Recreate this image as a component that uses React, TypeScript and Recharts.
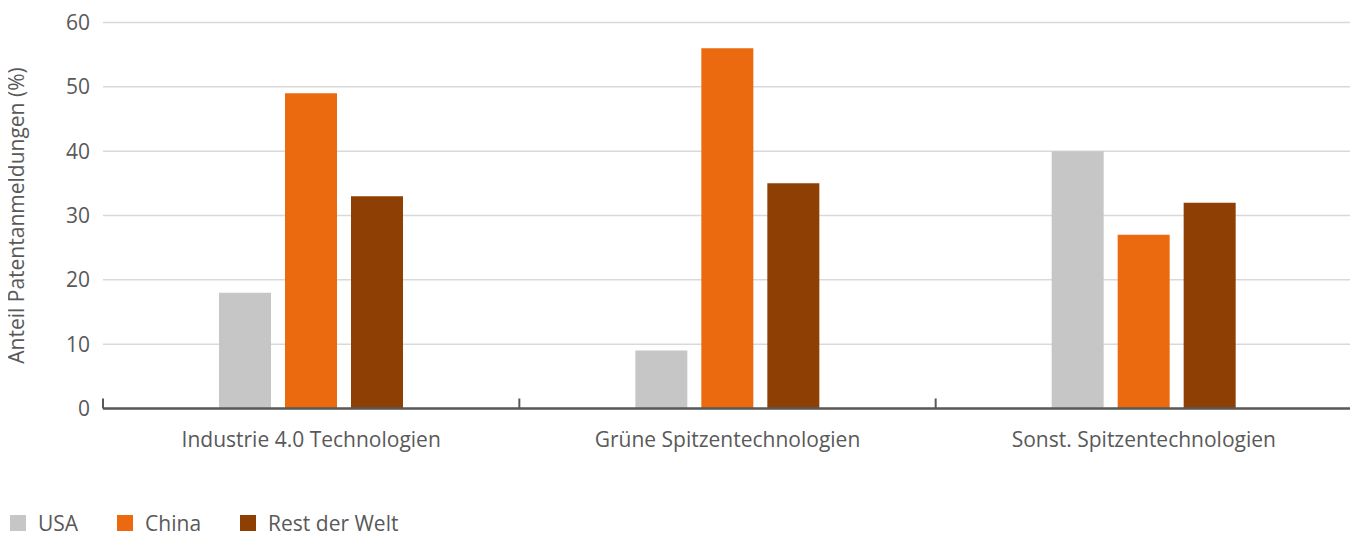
import React from "react";
import { BarChart, Bar, XAxis, YAxis, CartesianGrid, Legend } from "recharts";

const categories = ["Industrie 4.0 Technologien", "Grüne Spitzentechnologien", "Sonst. Spitzentechnologien"];
const usa = [18, 9, 40];
const china = [49, 56, 27];
const rest = [33, 35, 32];
const yTicks = [0, 10, 20, 30, 40, 50, 60];
const seriesNames = ["USA", "China", "Rest der Welt"];
const seriesColors = ["#c6c6c6", "#eb6a10", "#8e3f03"];
const yLabel = "Anteil Patentanmeldungen (%)";

const data = categories.map((c, i) => ({ category: c, USA: usa[i], China: china[i], "Rest der Welt": rest[i] }));

const FONT = "'Open Sans', 'Noto Sans', sans-serif";
const TEXT = "#595959";
const FS = 21;
const TICK_MARGIN = 24;

const CatTick = (props: any) => {
  const { x, y, payload, index, width, visibleTicksCount } = props;
  const band = width / visibleTicksCount;
  const axisY = y - TICK_MARGIN;
  const left = x - band / 2;
  const right = x + band / 2;
  return (
    <g>
      <line x1={left} x2={left} y1={axisY} y2={axisY - 10} stroke="#595959" strokeWidth={2} />
      {index === visibleTicksCount - 1 && (
        <line x1={right} x2={right} y1={axisY} y2={axisY - 10} stroke="#595959" strokeWidth={2} />
      )}
      <text x={x} y={y} dy="0.71em" textAnchor="middle" fill={TEXT} fontSize={FS} fontFamily={FONT}>
        {payload.value}
      </text>
    </g>
  );
};

const LegendContent = () => (
  <div style={{ height: 0, position: "relative" }}>
    <div style={{ position: "absolute", left: 0, top: 0, display: "flex", whiteSpace: "nowrap", alignItems: "center" }}>
      {seriesNames.map((n, i) => (
        <div key={n} style={{ display: "flex", alignItems: "center", marginRight: 39 }}>
          <div style={{ width: 16, height: 16, background: seriesColors[i], marginRight: 12 }} />
          <span style={{ fontFamily: FONT, fontSize: FS, color: TEXT, lineHeight: "22px" }}>{n}</span>
        </div>
      ))}
    </div>
  </div>
);

export default function App() {
  return (
    <div style={{ width: 1358, height: 528, marginLeft: -8 }}>
      <BarChart
        width={1358}
        height={528}
        data={data}
        margin={{ top: 14.5, right: 6, bottom: 67.5, left: 0 }}
        barGap={14}
      >
        <CartesianGrid vertical={false} stroke="#d9d9d9" strokeWidth={1.5} />
        <XAxis
          dataKey="category"
          axisLine={{ stroke: "#595959", strokeWidth: 2.5 }}
          tickLine={false}
          tickSize={0}
          tickMargin={TICK_MARGIN}
          height={60}
          tick={<CatTick />}
          interval={0}
        />
        <YAxis
          width={103}
          domain={[0, 60]}
          ticks={yTicks}
          axisLine={false}
          tickLine={false}
          tickSize={0}
          tickMargin={13}
          tick={{ fill: TEXT, fontSize: FS, fontFamily: FONT }}
          label={{
            value: yLabel,
            angle: -90,
            position: "insideLeft",
            offset: 17,
            style: { textAnchor: "middle", fill: TEXT, fontSize: FS, fontFamily: FONT },
          }}
        />
        <Legend
          verticalAlign="bottom"
          content={<LegendContent />}
          wrapperStyle={{ left: 10, top: 504, bottom: "auto", width: 600 }}
        />
        {seriesNames.map((n, i) => (
          <Bar key={n} dataKey={n} fill={seriesColors[i]} barSize={52} isAnimationActive={false} />
        ))}
      </BarChart>
    </div>
  );
}
